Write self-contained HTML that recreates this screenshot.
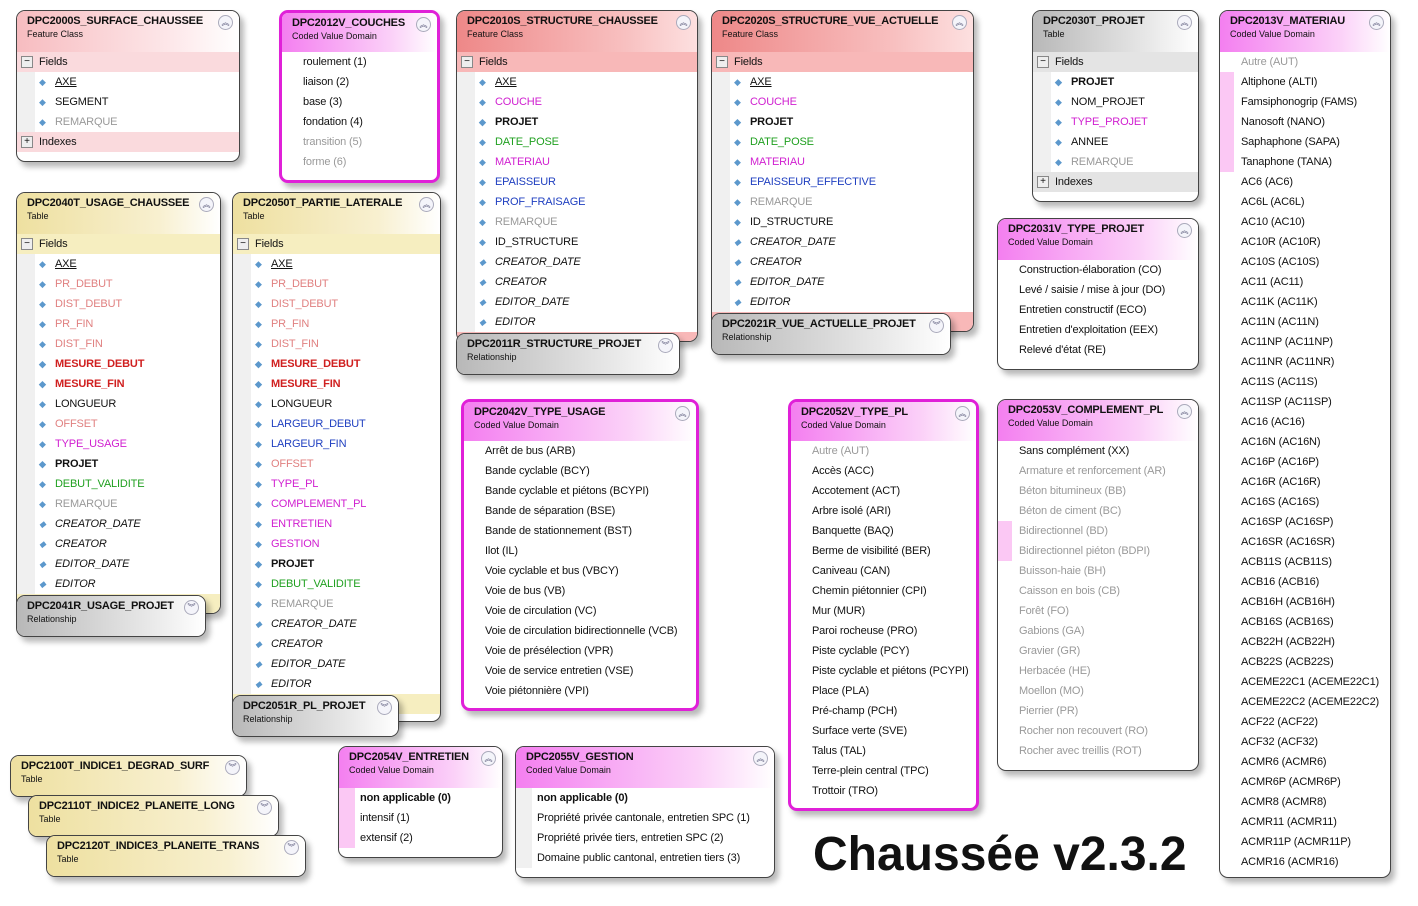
<!DOCTYPE html><html><head><meta charset="utf-8"><style>
body{margin:0;width:1418px;height:906px;background:#fff;position:relative;overflow:hidden;font-family:"Liberation Sans",sans-serif;color:#111}
.b{position:absolute;border:1px solid #444;border-radius:9px;background:#fff;box-shadow:4px 5px 6px rgba(0,0,0,.28);overflow:hidden}
.v{border:3px solid #e020d8}
.h{height:41px;padding:4px 0 0 10px;box-sizing:border-box;position:relative}
.t{font-weight:bold;font-size:11px;letter-spacing:-0.2px;white-space:nowrap}
.s{font-size:9px;margin-top:2px}
.c{position:absolute;right:6px;top:4px;width:13px;height:13px;border:1px solid #aab;border-radius:50%;font-size:8px;line-height:13px;text-align:center;color:#557;background:#f4f4fa}
.r{height:20px;line-height:20px;font-size:11px;letter-spacing:-0.15px;position:relative;white-space:nowrap}
.f{padding-left:38px;background:linear-gradient(90deg,#f0f0f0 18px,#fff 18px)}
.f:before{content:"◆";position:absolute;left:22px;top:0;font-size:9px;color:#5c98cc}
.d{padding-left:21px}
.sec{padding-left:22px}
.sec:before{content:"−";position:absolute;left:4px;top:4px;width:10px;height:10px;border:1px solid #888;background:#eee;font-size:10px;line-height:9px;text-align:center}
.p:before{content:"+"}
.fc{background:linear-gradient(90deg,#f7bcc0,#fde8ea 70%,#fff)}
.fcs{background:#fadadd}
.st{background:linear-gradient(90deg,#ee8888,#f8c0c0 70%,#fde0e0)}
.sts{background:#f8b8b8}
.tb{background:linear-gradient(90deg,#eee0a0,#f8f0d0 70%,#fff)}
.tbs{background:#f6eec0}
.cv{background:linear-gradient(90deg,#f47ff0,#fbd0f8 70%,#fff)}
.rl{background:linear-gradient(90deg,#b8b8b8,#e8e8e8 70%,#fff)}
.u{text-decoration:underline}
.g{color:#999}.k{font-weight:bold}.i{font-style:italic}
.rd{color:#d02020;font-weight:bold}.sa{color:#e08080}.m{color:#d020d0}.gr{color:#20a020}.bl{color:#2040c0}
.pk{background:linear-gradient(90deg,#fbc8f4 14px,#fff 14px)}
</style></head><body>

<div class="b" style="left:16px;top:10px;width:222px;height:150px">
<div class="h fc"><div class="t">DPC2000S_SURFACE_CHAUSSEE</div><div class="s">Feature Class</div><div class="c">︽</div></div>
<div class="r sec fcs">Fields</div><div class="r f u">AXE</div><div class="r f">SEGMENT</div><div class="r f g">REMARQUE</div><div class="r sec p fcs">Indexes</div></div>

<div class="b v" style="left:279px;top:10px;width:155px;height:167px">
<div class="h cv" style="height:39px"><div class="t">DPC2012V_COUCHES</div><div class="s">Coded Value Domain</div><div class="c">︽</div></div>
<div class="r d">roulement (1)</div><div class="r d">liaison (2)</div><div class="r d">base (3)</div><div class="r d">fondation (4)</div><div class="r d g">transition (5)</div><div class="r d g">forme (6)</div></div>

<div class="b" style="left:456px;top:10px;width:240px;height:330px">
<div class="h st"><div class="t">DPC2010S_STRUCTURE_CHAUSSEE</div><div class="s">Feature Class</div><div class="c">︽</div></div>
<div class="r sec sts">Fields</div><div class="r f u">AXE</div><div class="r f m">COUCHE</div><div class="r f k">PROJET</div><div class="r f gr">DATE_POSE</div><div class="r f m">MATERIAU</div><div class="r f bl">EPAISSEUR</div><div class="r f bl">PROF_FRAISAGE</div><div class="r f g">REMARQUE</div><div class="r f">ID_STRUCTURE</div><div class="r f i">CREATOR_DATE</div><div class="r f i">CREATOR</div><div class="r f i">EDITOR_DATE</div><div class="r f i">EDITOR</div><div class="r sts"></div></div>
<div class="b" style="left:456px;top:333px;width:222px;height:40px"><div class="h rl" style="height:40px"><div class="t">DPC2011R_STRUCTURE_PROJET</div><div class="s">Relationship</div><div class="c">︾</div></div></div>

<div class="b" style="left:711px;top:10px;width:261px;height:320px">
<div class="h st"><div class="t">DPC2020S_STRUCTURE_VUE_ACTUELLE</div><div class="s">Feature Class</div><div class="c">︽</div></div>
<div class="r sec sts">Fields</div><div class="r f u">AXE</div><div class="r f m">COUCHE</div><div class="r f k">PROJET</div><div class="r f gr">DATE_POSE</div><div class="r f m">MATERIAU</div><div class="r f bl">EPAISSEUR_EFFECTIVE</div><div class="r f g">REMARQUE</div><div class="r f">ID_STRUCTURE</div><div class="r f i">CREATOR_DATE</div><div class="r f i">CREATOR</div><div class="r f i">EDITOR_DATE</div><div class="r f i">EDITOR</div><div class="r sts"></div></div>
<div class="b" style="left:711px;top:313px;width:238px;height:40px"><div class="h rl" style="height:40px"><div class="t">DPC2021R_VUE_ACTUELLE_PROJET</div><div class="s">Relationship</div><div class="c">︾</div></div></div>

<div class="b" style="left:1032px;top:10px;width:165px;height:190px">
<div class="h rl"><div class="t">DPC2030T_PROJET</div><div class="s">Table</div><div class="c">︽</div></div>
<div class="r sec" style="background:#e4e4e4">Fields</div><div class="r f k">PROJET</div><div class="r f">NOM_PROJET</div><div class="r f m">TYPE_PROJET</div><div class="r f">ANNEE</div><div class="r f g">REMARQUE</div><div class="r sec p" style="background:#e4e4e4">Indexes</div></div>

<div class="b" style="left:1219px;top:10px;width:170px;height:866px">
<div class="h cv"><div class="t">DPC2013V_MATERIAU</div><div class="s">Coded Value Domain</div><div class="c">︽</div></div>
<div class="r d g">Autre (AUT)</div><div class="r d pk">Altiphone (ALTI)</div><div class="r d pk">Famsiphonogrip (FAMS)</div><div class="r d pk">Nanosoft (NANO)</div><div class="r d pk">Saphaphone (SAPA)</div><div class="r d pk">Tanaphone (TANA)</div>
<div class="r d">AC6 (AC6)</div><div class="r d">AC6L (AC6L)</div><div class="r d">AC10 (AC10)</div><div class="r d">AC10R (AC10R)</div><div class="r d">AC10S (AC10S)</div><div class="r d">AC11 (AC11)</div><div class="r d">AC11K (AC11K)</div><div class="r d">AC11N (AC11N)</div><div class="r d">AC11NP (AC11NP)</div><div class="r d">AC11NR (AC11NR)</div><div class="r d">AC11S (AC11S)</div><div class="r d">AC11SP (AC11SP)</div><div class="r d">AC16 (AC16)</div><div class="r d">AC16N (AC16N)</div><div class="r d">AC16P (AC16P)</div><div class="r d">AC16R (AC16R)</div><div class="r d">AC16S (AC16S)</div><div class="r d">AC16SP (AC16SP)</div><div class="r d">AC16SR (AC16SR)</div><div class="r d">ACB11S (ACB11S)</div><div class="r d">ACB16 (ACB16)</div><div class="r d">ACB16H (ACB16H)</div><div class="r d">ACB16S (ACB16S)</div><div class="r d">ACB22H (ACB22H)</div><div class="r d">ACB22S (ACB22S)</div><div class="r d">ACEME22C1 (ACEME22C1)</div><div class="r d">ACEME22C2 (ACEME22C2)</div><div class="r d">ACF22 (ACF22)</div><div class="r d">ACF32 (ACF32)</div><div class="r d">ACMR6 (ACMR6)</div><div class="r d">ACMR6P (ACMR6P)</div><div class="r d">ACMR8 (ACMR8)</div><div class="r d">ACMR11 (ACMR11)</div><div class="r d">ACMR11P (ACMR11P)</div><div class="r d">ACMR16 (ACMR16)</div></div>

<div class="b" style="left:16px;top:192px;width:203px;height:420px">
<div class="h tb"><div class="t">DPC2040T_USAGE_CHAUSSEE</div><div class="s">Table</div><div class="c">︽</div></div>
<div class="r sec tbs">Fields</div><div class="r f u">AXE</div><div class="r f sa">PR_DEBUT</div><div class="r f sa">DIST_DEBUT</div><div class="r f sa">PR_FIN</div><div class="r f sa">DIST_FIN</div><div class="r f rd">MESURE_DEBUT</div><div class="r f rd">MESURE_FIN</div><div class="r f">LONGUEUR</div><div class="r f sa">OFFSET</div><div class="r f m">TYPE_USAGE</div><div class="r f k">PROJET</div><div class="r f gr">DEBUT_VALIDITE</div><div class="r f g">REMARQUE</div><div class="r f i">CREATOR_DATE</div><div class="r f i">CREATOR</div><div class="r f i">EDITOR_DATE</div><div class="r f i">EDITOR</div><div class="r tbs"></div></div>
<div class="b" style="left:16px;top:595px;width:188px;height:40px"><div class="h rl" style="height:40px"><div class="t">DPC2041R_USAGE_PROJET</div><div class="s">Relationship</div><div class="c">︾</div></div></div>

<div class="b" style="left:232px;top:192px;width:207px;height:528px">
<div class="h tb"><div class="t">DPC2050T_PARTIE_LATERALE</div><div class="s">Table</div><div class="c">︽</div></div>
<div class="r sec tbs">Fields</div><div class="r f u">AXE</div><div class="r f sa">PR_DEBUT</div><div class="r f sa">DIST_DEBUT</div><div class="r f sa">PR_FIN</div><div class="r f sa">DIST_FIN</div><div class="r f rd">MESURE_DEBUT</div><div class="r f rd">MESURE_FIN</div><div class="r f">LONGUEUR</div><div class="r f bl">LARGEUR_DEBUT</div><div class="r f bl">LARGEUR_FIN</div><div class="r f sa">OFFSET</div><div class="r f m">TYPE_PL</div><div class="r f m">COMPLEMENT_PL</div><div class="r f m">ENTRETIEN</div><div class="r f m">GESTION</div><div class="r f k">PROJET</div><div class="r f gr">DEBUT_VALIDITE</div><div class="r f g">REMARQUE</div><div class="r f i">CREATOR_DATE</div><div class="r f i">CREATOR</div><div class="r f i">EDITOR_DATE</div><div class="r f i">EDITOR</div><div class="r tbs"></div></div>
<div class="b" style="left:232px;top:695px;width:165px;height:40px"><div class="h rl" style="height:40px"><div class="t">DPC2051R_PL_PROJET</div><div class="s">Relationship</div><div class="c">︾</div></div></div>

<div class="b" style="left:997px;top:218px;width:200px;height:150px">
<div class="h cv"><div class="t">DPC2031V_TYPE_PROJET</div><div class="s">Coded Value Domain</div><div class="c">︽</div></div>
<div class="r d">Construction-élaboration (CO)</div><div class="r d">Levé / saisie / mise à jour (DO)</div><div class="r d">Entretien constructif (ECO)</div><div class="r d">Entretien d'exploitation (EEX)</div><div class="r d">Relevé d'état (RE)</div></div>

<div class="b v" style="left:461px;top:399px;width:232px;height:306px">
<div class="h cv" style="height:39px"><div class="t">DPC2042V_TYPE_USAGE</div><div class="s">Coded Value Domain</div><div class="c">︽</div></div>
<div class="r d">Arrêt de bus (ARB)</div><div class="r d">Bande cyclable (BCY)</div><div class="r d">Bande cyclable et piétons (BCYPI)</div><div class="r d">Bande de séparation (BSE)</div><div class="r d">Bande de stationnement (BST)</div><div class="r d">Ilot (IL)</div><div class="r d">Voie cyclable et bus (VBCY)</div><div class="r d">Voie de bus (VB)</div><div class="r d">Voie de circulation (VC)</div><div class="r d">Voie de circulation bidirectionnelle (VCB)</div><div class="r d">Voie de présélection (VPR)</div><div class="r d">Voie de service entretien (VSE)</div><div class="r d">Voie piétonnière (VPI)</div></div>

<div class="b v" style="left:788px;top:399px;width:185px;height:406px">
<div class="h cv" style="height:39px"><div class="t">DPC2052V_TYPE_PL</div><div class="s">Coded Value Domain</div><div class="c">︽</div></div>
<div class="r d g">Autre (AUT)</div><div class="r d">Accès (ACC)</div><div class="r d">Accotement (ACT)</div><div class="r d">Arbre isolé (ARI)</div><div class="r d">Banquette (BAQ)</div><div class="r d">Berme de visibilité (BER)</div><div class="r d">Caniveau (CAN)</div><div class="r d">Chemin piétonnier (CPI)</div><div class="r d">Mur (MUR)</div><div class="r d">Paroi rocheuse (PRO)</div><div class="r d">Piste cyclable (PCY)</div><div class="r d">Piste cyclable et piétons (PCYPI)</div><div class="r d">Place (PLA)</div><div class="r d">Pré-champ (PCH)</div><div class="r d">Surface verte (SVE)</div><div class="r d">Talus (TAL)</div><div class="r d">Terre-plein central (TPC)</div><div class="r d">Trottoir (TRO)</div></div>

<div class="b" style="left:997px;top:399px;width:200px;height:370px">
<div class="h cv"><div class="t">DPC2053V_COMPLEMENT_PL</div><div class="s">Coded Value Domain</div><div class="c">︽</div></div>
<div class="r d">Sans complément (XX)</div><div class="r d g">Armature et renforcement (AR)</div><div class="r d g">Béton bitumineux (BB)</div><div class="r d g">Béton de ciment (BC)</div><div class="r d g pk">Bidirectionnel (BD)</div><div class="r d g pk">Bidirectionnel piéton (BDPI)</div><div class="r d g">Buisson-haie (BH)</div><div class="r d g">Caisson en bois (CB)</div><div class="r d g">Forêt (FO)</div><div class="r d g">Gabions (GA)</div><div class="r d g">Gravier (GR)</div><div class="r d g">Herbacée (HE)</div><div class="r d g">Moellon (MO)</div><div class="r d g">Pierrier (PR)</div><div class="r d g">Rocher non recouvert (RO)</div><div class="r d g">Rocher avec treillis (ROT)</div></div>

<div class="b" style="left:10px;top:755px;width:235px;height:40px"><div class="h tb" style="height:40px"><div class="t">DPC2100T_INDICE1_DEGRAD_SURF</div><div class="s">Table</div><div class="c">︾</div></div></div>
<div class="b" style="left:28px;top:795px;width:249px;height:40px"><div class="h tb" style="height:40px"><div class="t">DPC2110T_INDICE2_PLANEITE_LONG</div><div class="s">Table</div><div class="c">︾</div></div></div>
<div class="b" style="left:46px;top:835px;width:258px;height:40px"><div class="h tb" style="height:40px"><div class="t">DPC2120T_INDICE3_PLANEITE_TRANS</div><div class="s">Table</div><div class="c">︾</div></div></div>

<div class="b" style="left:338px;top:746px;width:163px;height:110px">
<div class="h cv"><div class="t">DPC2054V_ENTRETIEN</div><div class="s">Coded Value Domain</div><div class="c">︽</div></div>
<div style="background:linear-gradient(90deg,#fbc8f4 16px,#fff 16px)"><div class="r d k">non applicable (0)</div><div class="r d">intensif (1)</div><div class="r d">extensif (2)</div></div></div>

<div class="b" style="left:515px;top:746px;width:258px;height:130px">
<div class="h cv"><div class="t">DPC2055V_GESTION</div><div class="s">Coded Value Domain</div><div class="c">︽</div></div>
<div style="background:linear-gradient(90deg,#f0f0f0 16px,#fff 16px)"><div class="r d k">non applicable (0)</div><div class="r d">Propriété privée cantonale, entretien SPC (1)</div><div class="r d">Propriété privée tiers, entretien SPC (2)</div><div class="r d">Domaine public cantonal, entretien tiers (3)</div></div></div>

<div style="position:absolute;left:813px;top:826px;font-size:48px;font-weight:bold;line-height:58px;white-space:nowrap">Chaussée v2.3.2</div>
</body></html>
